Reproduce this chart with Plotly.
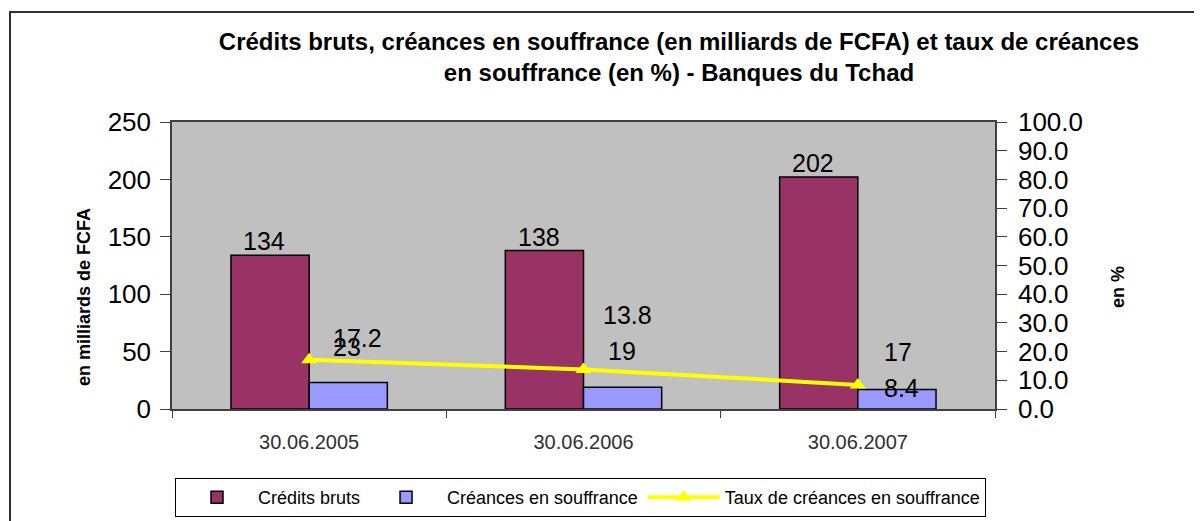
import plotly.graph_objects as go

categories = ["30.06.2005", "30.06.2006", "30.06.2007"]
credits_bruts = [134, 138, 202]
creances = [23, 19, 17]
taux = [17.2, 13.8, 8.4]

# label offsets (pixels) to mimic the original label placement
credit_lbl_shift = [(-45, 14), (-45, 14), (-45, 14)]
creance_lbl_shift = [(38, 36), (38, 36), (40, 37)]
taux_lbl_shift = [(48, 22), (44, 54), (44, -3)]

OFF = 8  # page body margin
W, H = 1194, 513
L, R, T, B = 164, 207, 114, 112
pw, ph = W - L - R, H - T - B

def sx(x):  # screen px -> paper x
    return (x - OFF - L) / pw

def sy(y):  # screen px -> paper y
    return (H - B - (y - OFF)) / ph

font = "Liberation Sans, Arial, sans-serif"
axis_col = "#404040"

fig = go.Figure()
fig.add_trace(go.Bar(
    x=categories, y=credits_bruts, name="Crédits bruts",
    marker=dict(color="#993366", line=dict(color="black", width=1.5)),
    offsetgroup=0))
fig.add_trace(go.Bar(
    x=categories, y=creances, name="Créances en souffrance",
    marker=dict(color="#9999FF", line=dict(color="black", width=1.5)),
    offsetgroup=1))
fig.add_trace(go.Scatter(
    x=categories, y=taux, name="Taux de créances en souffrance",
    mode="lines+markers", yaxis="y2",
    line=dict(color="#FFFF00", width=4),
    marker=dict(symbol="triangle-up", size=14, color="#FFFF00")))

lbl_font = dict(size=25, color="black", family=font)
annotations = []
for i, c in enumerate(categories):
    dx, dy = credit_lbl_shift[i]
    annotations.append(dict(x=c, y=credits_bruts[i], text=str(credits_bruts[i]),
                            xref="x", yref="y", showarrow=False, xshift=dx, yshift=dy,
                            font=lbl_font))
    dx, dy = creance_lbl_shift[i]
    annotations.append(dict(x=c, y=creances[i], text=str(creances[i]),
                            xref="x", yref="y", showarrow=False, xshift=dx, yshift=dy,
                            font=lbl_font))
    dx, dy = taux_lbl_shift[i]
    annotations.append(dict(x=c, y=taux[i], text=f"{taux[i]:.1f}",
                            xref="x", yref="y2", showarrow=False, xshift=dx, yshift=dy,
                            font=lbl_font))

annotations.append(dict(x=sx(84), y=sy(297), xref="paper", yref="paper",
                        xanchor="center", yanchor="middle",
                        text="<b>en milliards de FCFA</b>", textangle=-90, showarrow=False,
                        font=dict(size=18, color="black", family=font)))
annotations.append(dict(x=sx(1118), y=sy(287), xref="paper", yref="paper",
                        xanchor="center", yanchor="middle",
                        text="<b>en %</b>", textangle=-90, showarrow=False,
                        font=dict(size=18, color="black", family=font)))

fig.update_layout(
    width=W, height=H,
    margin=dict(l=L, r=R, t=T, b=B, autoexpand=False),
    paper_bgcolor="white", plot_bgcolor="#C0C0C0",
    font=dict(family=font, color="black"),
    title=dict(text="<b>Crédits bruts, créances en souffrance (en milliards de FCFA) et taux de créances<br>en souffrance (en %) - Banques du Tchad</b>",
               x=(679 - OFF) / W, xanchor="center", y=1 - (50 - OFF) / H, yanchor="middle",
               font=dict(size=24, family=font, color="black")),
    barmode="group", bargap=0.43, bargroupgap=0,
    xaxis=dict(type="category", showline=True, linecolor=axis_col, linewidth=1.5, mirror=True,
               ticks="outside", tickson="boundaries", ticklen=7, tickcolor=axis_col,
               tickfont=dict(size=20, color="#303030"), showgrid=False,
               ticklabelstandoff=14, automargin=False),
    yaxis=dict(range=[0, 250], dtick=50, showline=True, linecolor=axis_col, linewidth=1.5, mirror=True,
               ticks="outside", ticklen=10, tickcolor=axis_col, showgrid=False, zeroline=False,
               tickfont=dict(size=26), ticklabelstandoff=4, automargin=False),
    yaxis2=dict(range=[0, 100], dtick=10, tickformat=".1f", overlaying="y", side="right",
                showline=True, linecolor=axis_col, linewidth=1.5,
                ticks="outside", ticklen=10, tickcolor=axis_col, showgrid=False, zeroline=False,
                tickfont=dict(size=26), ticklabelstandoff=6, automargin=False),
    legend=dict(orientation="h", x=sx(175), y=sy(478), xanchor="left", yanchor="top",
                bordercolor="black", borderwidth=1, bgcolor="white",
                font=dict(size=18, family=font), itemwidth=72,
                traceorder="normal"),
    showlegend=True,
    annotations=annotations,
    shapes=[dict(type="rect", xref="paper", yref="paper",
                 x0=sx(10), x1=sx(1215), y0=sy(535), y1=sy(12),
                 line=dict(color="#303030", width=2), layer="below")],
)

fig.write_html("out.html")
